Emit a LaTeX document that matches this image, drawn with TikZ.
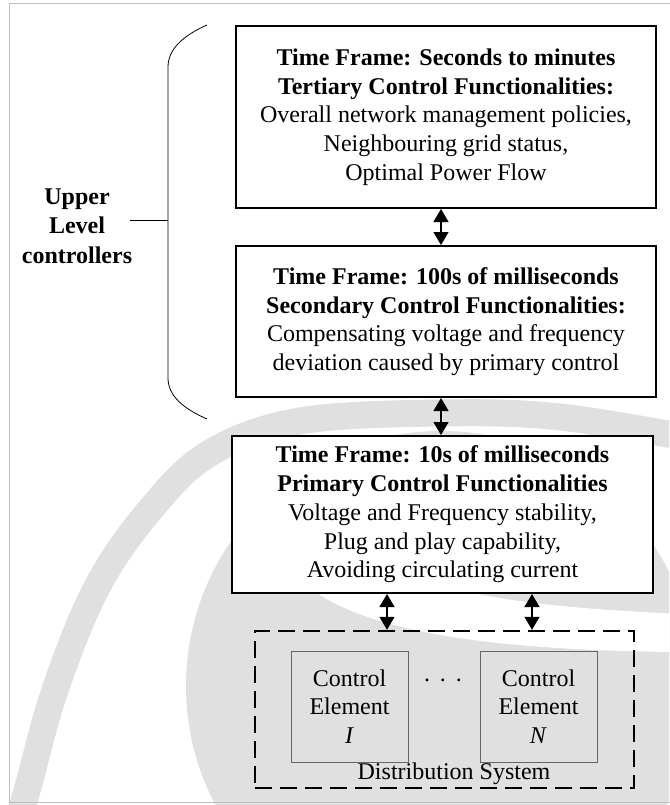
\documentclass[tikz,border=0pt]{standalone}
\usepackage{fontspec}
\setmainfont{Liberation Serif}
\usetikzlibrary{arrows.meta,calc}
\begin{document}
\begin{tikzpicture}[x=1pt,y=-1pt,
  txt/.style={font=\fontsize{24}{28.7}\selectfont},
  layerbox/.style={txt, draw, line width=2pt, fill=white, align=center, inner sep=0pt},
  elembox/.style={txt, draw=black!60, line width=0.9pt, align=center, inner sep=0pt,
    minimum width=117pt, minimum height=111pt},
  distbox/.style={draw, line width=2.4pt, dash pattern=on 17pt off 8pt,
    minimum width=379pt, minimum height=157pt, inner sep=0pt},
  biarrow/.style={line width=1.2pt,
    {Triangle[width=15pt,length=13pt]}-{Triangle[width=15pt,length=13pt]}},
  bracket/.style={line width=0.8pt},
  logoshade/.style={black!12}
]
\useasboundingbox (0,0) rectangle (669,805);

% faint logo in the background
\begin{scope}
  \clip (0,0) rectangle (669,805);
  \draw[logoshade, line width=27pt] plot[smooth, tension=0.6] coordinates
    {(12,840) (28,787) (55,690) (97,587) (150,510) (210,453) (300,421) (441,413) (560,417) (700,440)};
  \fill[logoshade] (441,686) circle[radius=255];
  \fill[white] (290,570) .. controls (330,615) and (420,650) .. (680,652)
    -- (680,614) .. controls (560,608) and (470,600) .. (420,575) -- cycle;
\end{scope}

% page frame
\draw[black!25, line width=1pt] (9.5,3.5) rectangle (700,802);

% control layers
\node[layerbox, minimum width=420pt, minimum height=182pt] (tert) at (446,117)
  {\textbf{Time Frame: Seconds to minutes}\\
   \textbf{Tertiary Control Functionalities:}\\
   Overall network management policies,\\
   Neighbouring grid status,\\
   Optimal Power Flow};
\node[layerbox, minimum width=420pt, minimum height=151pt] (sec) at (446,321.5)
  {\textbf{Time Frame: 100s of milliseconds}\\
   \textbf{Secondary Control Functionalities:}\\
   Compensating voltage and frequency\\
   deviation caused by primary control};
\node[layerbox, minimum width=421pt, minimum height=157pt] (prim) at (442.5,514.5)
  {\textbf{Time Frame: 10s of milliseconds}\\
   \textbf{Primary Control Functionalities}\\
   Voltage and Frequency stability,\\
   Plug and play capability,\\
   Avoiding circulating current};

% distribution system
\node[distbox] (dist) at (444.5,709.5) {};
\node[elembox] (ce1) at (349.5,706.5) {Control\\Element\\\textit{I}};
\node[elembox] (cen) at (538.5,706.5) {Control\\Element\\\textit{N}};
\node[txt, anchor=base, inner sep=0pt] (dots) at (443,681) {.\hspace{10pt}.\hspace{10pt}.};
\node[txt, inner sep=0pt] (dslabel) at (454,774) {Distribution System};

% links between layers
\coordinate (ax) at (441,0);
\coordinate (bx1) at (387,0);
\coordinate (bx2) at (532,0);
\draw[biarrow] (tert.south -| ax) -- (sec.north -| ax);
\draw[biarrow] (sec.south -| ax) -- (prim.north -| ax);
\draw[biarrow] (prim.south -| bx1) -- (dist.north -| bx1);
\draw[biarrow] (prim.south -| bx2) -- (dist.north -| bx2);

% bracket grouping the upper levels
\coordinate (btop) at (207,25);
\coordinate (bbot) at (207,419);
\coordinate (bmid) at (168,220);
\coordinate (tickend) at (130,220);
\draw[bracket] (btop) .. controls (182,36) and (168,50) .. (168,67)
  -- (168,378) .. controls (168,395) and (182,408) .. (bbot);
\draw[bracket] (tickend) -- (bmid);
\node[font=\bfseries\fontsize{24}{29.5}\selectfont, align=center, inner sep=0pt] (upper) at (77,226)
  {Upper\\Level\\controllers};
\end{tikzpicture}
\end{document}
